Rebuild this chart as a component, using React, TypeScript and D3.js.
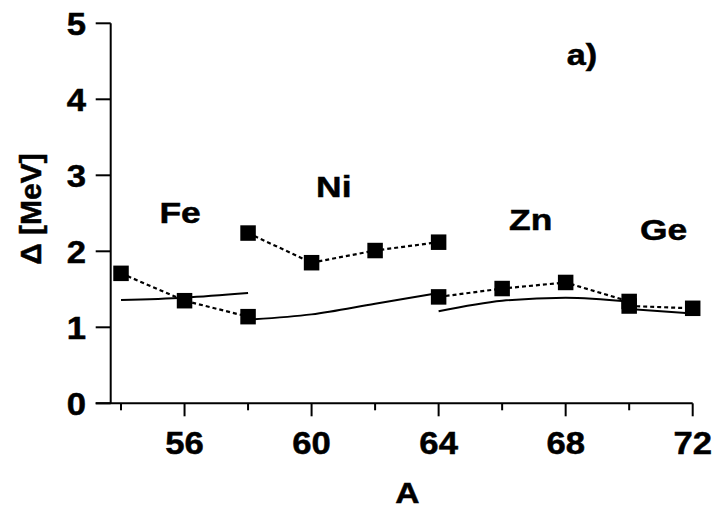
import React from "react";
import * as d3 from "d3";

// mass numbers and pairing gaps (MeV) per isotope chain
const feA = [54, 56, 58];
const feExp = [1.71, 1.35, 1.14];
const feTh = [1.36, 1.39, 1.45];

const niA = [58, 60, 62, 64];
const niExp = [2.24, 1.85, 2.01, 2.12];
const niTh = [1.1, 1.17, 1.31, 1.45];

const znA = [64, 66, 68, 70];
const znExp = [1.4, 1.51, 1.59, 1.34];
const znTh = [1.21, 1.35, 1.39, 1.34];

const geA = [70, 72];
const geExp = [1.28, 1.25];
const geTh = [1.24, 1.18];

// label anchor (A, Delta) of each chain's name
const chains = [
  { name: "Fe", A: feA, exp: feExp, th: feTh, labelA: 55.86, labelV: 2.52 },
  { name: "Ni", A: niA, exp: niExp, th: niTh, labelA: 60.7, labelV: 2.86 },
  { name: "Zn", A: znA, exp: znExp, th: znTh, labelA: 66.9, labelV: 2.42 },
  { name: "Ge", A: geA, exp: geExp, th: geTh, labelA: 71.08, labelV: 2.3 },
];

const yTicks = [0, 1, 2, 3, 4, 5];
const majorX = [56, 60, 64, 68, 72];
const minorX = [54, 58, 62, 66, 70];

const font = "'Liberation Sans', Arial, Helvetica, sans-serif";

// bold text, a bit wider and heavier than Arial like the original figure
function Label({ x, y, size = 30, anchor = "middle", sx = 1.18, children }: any) {
  return (
    <text
      transform={`translate(${x},${y}) scale(${sx},1)`}
      fontSize={size}
      textAnchor={anchor}
      stroke="#000"
      strokeWidth={0.5}
    >
      {children}
    </text>
  );
}

export default function App() {
  const width = 716;
  const height = 510;
  const margin = { left: 110.7, right: 23.3, top: 23.3, bottom: 106.7 };

  const x = d3
    .scaleLinear()
    .domain([53.675, 72])
    .range([margin.left, width - margin.right]);
  const y = d3
    .scaleLinear()
    .domain([0, 5])
    .range([height - margin.bottom, margin.top]);

  const dotted = d3
    .line<[number, number]>()
    .x((d) => x(d[0]))
    .y((d) => y(d[1]));
  const solid = d3
    .line<[number, number]>()
    .x((d) => x(d[0]))
    .y((d) => y(d[1]))
    .curve(d3.curveMonotoneX);

  const x0 = x.range()[0];
  const y0 = y(0);
  const sq = 15.5;

  return (
    <svg
      width={width}
      height={height}
      style={{ position: "absolute", left: 0, top: 0, background: "#fff" }}
      fontFamily={font}
      fontWeight="bold"
    >
      {/* axes */}
      <line x1={x0} x2={x0} y1={y(5)} y2={y0} stroke="#000" strokeWidth={2} />
      <line x1={x0 - 15} x2={x(72)} y1={y0} y2={y0} stroke="#000" strokeWidth={2} />

      {yTicks.map((t) => (
        <g key={"y" + t}>
          <line x1={x0 - 15} x2={x0} y1={y(t)} y2={y(t)} stroke="#000" strokeWidth={2} />
          <Label x={86} y={y(t) + 11.3} anchor="end" size={31.5} sx={1.1}>
            {t}
          </Label>
        </g>
      ))}

      {majorX.map((t) => (
        <g key={"mx" + t}>
          <line x1={x(t)} x2={x(t)} y1={y0} y2={y0 + 13} stroke="#000" strokeWidth={2} />
          <Label x={x(t)} y={454} size={31.5} sx={1.1}>
            {t}
          </Label>
        </g>
      ))}
      {minorX.map((t) => (
        <line key={"nx" + t} x1={x(t)} x2={x(t)} y1={y0} y2={y0 + 7} stroke="#000" strokeWidth={2} />
      ))}

      <Label x={407.5} y={503} size={30} sx={1.12}>
        A
      </Label>
      <text
        transform="translate(41,209) rotate(-90)"
        fontSize={30}
        textAnchor="middle"
        stroke="#000"
        strokeWidth={0.5}
      >
        Δ [MeV]
      </text>
      <Label x={582} y={65} size={29}>
        a)
      </Label>

      {chains.map((c) => {
        const expPts = c.A.map((a, i) => [a, c.exp[i]] as [number, number]);
        const thPts = c.A.map((a, i) => [a, c.th[i]] as [number, number]);
        return (
          <g key={c.name}>
            <path d={solid(thPts) || ""} fill="none" stroke="#000" strokeWidth={2} />
            <path
              d={dotted(expPts) || ""}
              fill="none"
              stroke="#000"
              strokeWidth={2.2}
              strokeDasharray="4,3"
            />
            {expPts.map((p, i) => (
              <rect
                key={i}
                x={x(p[0]) - sq / 2}
                y={y(p[1]) - sq / 2}
                width={sq}
                height={sq}
                fill="#000"
              />
            ))}
            <Label x={x(c.labelA)} y={y(c.labelV) + 11}>
              {c.name}
            </Label>
          </g>
        );
      })}
    </svg>
  );
}
